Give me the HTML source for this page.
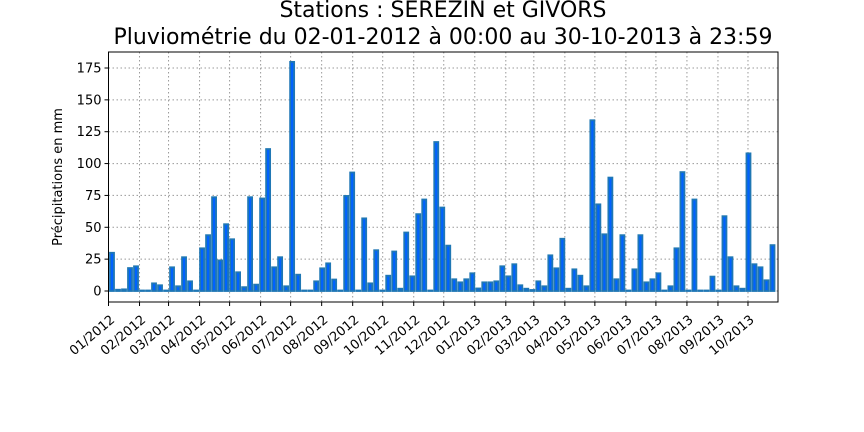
<!DOCTYPE html>
<html><head><meta charset="utf-8"><style>
body{margin:0;background:#fff;}
svg{display:block;font-family:"DejaVu Sans","Liberation Sans",sans-serif;}
</style></head><body>
<svg id="chart" width="864" height="432" viewBox="0 0 864 432">
<text x="443" y="17" text-anchor="middle" font-size="22">Stations : SEREZIN et GIVORS</text>
<text x="443" y="44" text-anchor="middle" font-size="22">Pluviométrie du 02-01-2012 à 00:00 au 30-10-2013 à 23:59</text>
<text transform="translate(62,177) rotate(-90)" text-anchor="middle" font-size="13">Précipitations en mm</text>
<g id="grid"></g><g id="bars"></g><g id="axes"></g>
</svg>
<script>
const values = [30,1,1.3,18,19.4,0,0,6,4.5,0,18.6,3.7,26.5,7.6,0,33.5,43.8,73.6,24,52.4,40.6,14.7,3,73.6,5,72.6,111.4,18.6,26.5,3.7,179.8,12.8,0,0,7.6,17.8,21.7,9,0,74.6,93,0,57,6,32,0,12,31,1.8,45.9,11.5,60.3,71.8,0,116.9,65.5,35.6,9.2,6.8,9.2,13.9,2,6.8,6.8,7.6,19.4,11.5,21,4.5,1.8,0.8,7.6,3.7,28,17.8,41,1.8,17,12,3.7,134,68,44.5,89,9.2,43.8,0,17,43.8,6.8,9.2,13.9,0,3.7,33.5,93.3,0,71.8,0,0,11.3,0,58.7,26.5,3.7,1.8,108,21,18.6,8.4,36];
const yTicks = [0,25,50,75,100,125,150,175];
const xTickLabels = ["01/2012","02/2012","03/2012","04/2012","05/2012","06/2012","07/2012","08/2012","09/2012","10/2012","11/2012","12/2012","01/2013","02/2013","03/2013","04/2013","05/2013","06/2013","07/2013","08/2013","09/2013","10/2013"];
const binDays = 6, firstCenterDay = 3.5;
const NS="http://www.w3.org/2000/svg";
const L=108.5,R=778,T=52,B=302, dayMax=669;
const x=d=>L+d*(R-L)/dayMax;
const y=v=>291-v*(223/175);
function mk(tag,attrs,parent){const e=document.createElementNS(NS,tag);for(const k in attrs)e.setAttribute(k,attrs[k]);parent.appendChild(e);return e;}
const grid=document.getElementById('grid'),bars=document.getElementById('bars'),axes=document.getElementById('axes');
const start=Date.UTC(2012,0,1);
xTickLabels.forEach((lab,i)=>{
  const [m,yr]=lab.split('/').map(Number);
  const d=(Date.UTC(yr,m-1,1)-start)/86400000;
  const xx=x(d);
  mk('line',{x1:xx,x2:xx,y1:T,y2:B,stroke:'#999','stroke-dasharray':'1.5,2.5','stroke-width':1},grid);
  mk('line',{x1:xx,x2:xx,y1:B,y2:B+4,stroke:'#000','stroke-width':1},axes);
  const t=mk('text',{transform:`translate(${xx+7},${B+19}) rotate(-40)`,'text-anchor':'end','font-size':13},axes);
  t.textContent=lab;
  
  
});
yTicks.forEach(v=>{
  const yy=y(v);
  mk('line',{x1:L,x2:R,y1:yy,y2:yy,stroke:'#999','stroke-dasharray':'1.5,2.5','stroke-width':1},grid);
  mk('line',{x1:L-4,x2:L,y1:yy,y2:yy,stroke:'#000','stroke-width':1},axes);
  const t=mk('text',{x:L-7,y:yy+4.5,'text-anchor':'end','font-size':13},axes);
  t.textContent=v;
  
  
});
values.forEach((v,i)=>{
  const c=firstCenterDay+i*binDays;
  const x0=x(c-binDays/2)+1, x1=x(c+binDays/2)-1;
  const h=Math.max(0.5,y(0)-y(v));
  const r=mk('rect',{x:x0,y:y(0)-h,width:x1-x0,height:h,fill:'#0062ff',stroke:'#1f77b4','stroke-width':1.8},bars);
  
  
});
mk('rect',{x:L,y:T,width:R-L,height:B-T,fill:'none',stroke:'#000','stroke-width':1},axes);
</script>
</body></html>
